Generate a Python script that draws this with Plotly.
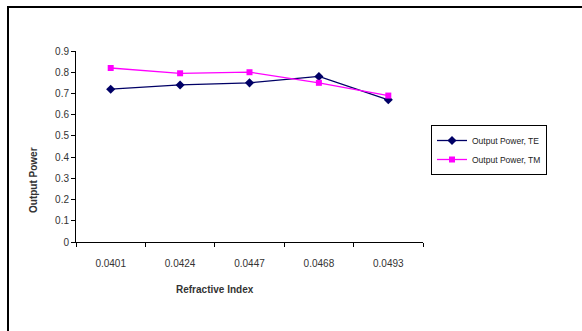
import plotly.graph_objects as go

# Refractive index categories and measured output power
refractive_index = ["0.0401", "0.0424", "0.0447", "0.0468", "0.0493"]
power_te = [0.72, 0.74, 0.75, 0.78, 0.67]
power_tm = [0.82, 0.795, 0.80, 0.75, 0.69]
y_ticks = [0, 0.1, 0.2, 0.3, 0.4, 0.5, 0.6, 0.7, 0.8, 0.9]

W, H = 582, 331
L, R, T, B = 76, 159, 51, 89
pw, ph = W - L - R, H - T - B


def px(x):
    return (x - L) / pw


def py(y):
    return (H - B - y) / ph


fig = go.Figure()
fig.add_trace(go.Scatter(
    x=refractive_index, y=power_te, mode="lines+markers",
    name="Output Power, TE",
    line=dict(color="#000066", width=1.3),
    marker=dict(symbol="diamond", size=7, color="#000066"),
))
fig.add_trace(go.Scatter(
    x=refractive_index, y=power_tm, mode="lines+markers",
    name="Output Power, TM",
    line=dict(color="#ff00ff", width=1.3),
    marker=dict(symbol="square", size=6, color="#ff00ff"),
))

fig.update_layout(
    width=W, height=H,
    margin=dict(l=L, r=R, t=T, b=B),
    paper_bgcolor="white", plot_bgcolor="white",
    font=dict(family="Liberation Sans, Arial", size=10, color="#222"),
    showlegend=True,
    legend=dict(
        x=px(431), y=py(125), xanchor="left", yanchor="top",
        bordercolor="black", borderwidth=1, bgcolor="white",
        font=dict(size=8.5, color="#222"),
        itemwidth=30, tracegroupgap=2,
    ),
    xaxis=dict(
        type="category", range=[-0.5, 4.5],
        showline=True, linecolor="black", linewidth=1,
        ticks="outside", ticklen=4, tickcolor="black",
        tickson="boundaries", showgrid=False, zeroline=False,
        ticklabelstandoff=12,
        tickfont=dict(size=10, color="#333"),
    ),
    yaxis=dict(
        range=[0, 0.9], tickvals=y_ticks,
        ticktext=[("%g" % v) for v in y_ticks],
        showline=True, linecolor="black", linewidth=1,
        ticks="outside", ticklen=4, tickcolor="black",
        showgrid=False, zeroline=False,
        tickfont=dict(size=10, color="#333"),
    ),
    annotations=[
        dict(text="<b>Refractive Index</b>", x=px(215), y=py(289),
             xref="paper", yref="paper", showarrow=False,
             xanchor="center", yanchor="middle",
             font=dict(size=10, color="#333")),
        dict(text="<b>Output Power</b>", x=px(33), y=py(180),
             xref="paper", yref="paper", showarrow=False, textangle=-90,
             xanchor="center", yanchor="middle",
             font=dict(size=10, color="#333")),
    ],
    shapes=[
        dict(type="line", xref="paper", yref="paper",
             x0=px(8), x1=px(8), y0=py(6), y1=py(H + 2),
             line=dict(color="black", width=2)),
        dict(type="line", xref="paper", yref="paper",
             x0=px(7), x1=px(W + 2), y0=py(7), y1=py(7),
             line=dict(color="black", width=2)),
    ],
)

fig.write_html("out.html")
